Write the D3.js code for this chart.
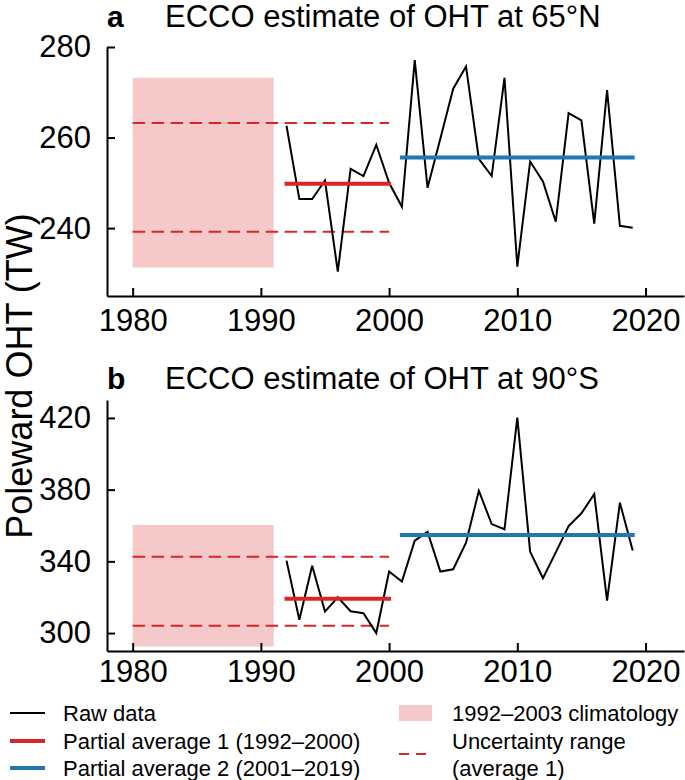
<!DOCTYPE html>
<html><head><meta charset="utf-8">
<script src="https://cdn.jsdelivr.net/npm/d3@7"></script>
<style>
html,body{margin:0;padding:0;background:#fff;}
svg text{font-family:"Liberation Sans",Arial,Helvetica,sans-serif;fill:#000;}
</style></head>
<body><svg id="chart" width="685" height="780"></svg>
<script>
// ---------- data ----------
const years = [1992,1993,1994,1995,1996,1997,1998,1999,2000,2001,2002,2003,2004,2005,2006,2007,2008,2009,2010,2011,2012,2013,2014,2015,2016,2017,2018,2019];
const ohtN65 = [262.6,246.4,246.4,250.5,230.4,253.1,251.5,258.4,250.0,244.7,277.1,248.9,259.8,270.8,275.7,255.3,251.5,273.2,231.5,254.7,250.3,241.4,265.4,263.8,241.0,270.5,240.5,240.1];
const ohtS90 = [340.4,307.4,337.6,312.0,320.0,312.2,311.1,300.0,334.3,328.7,351.5,356.4,334.3,335.6,350.4,379.4,360.8,357.9,420.2,345.4,330.6,345.0,359.7,366.8,377.5,318.1,372.7,346.0];
const avg1Period = [1992, 2000];
const avg2Period = [2001, 2019];
const uncPeriod = [1980, 2000];
const climPeriod = [1980, 1991];
const avgN65 = [249.8, 255.6];       // partial average 1, 2
const avgS90 = [319.1, 354.7];
const uncN65 = [239.2, 263.2];
const uncS90 = [304.1, 342.6];
const climN65 = [231.3, 273.2];
const climS90 = [292.5, 360.3];
const xTicks = [1980,1990,2000,2010,2020];
const yTicksN65 = [240,260,280];
const yTicksS90 = [300,340,380,420];
const titles = ["ECCO estimate of OHT at 65°N", "ECCO estimate of OHT at 90°S"];
const panelLetters = ["a","b"];
const yLabel = "Poleward OHT (TW)";
const legendLeft = ["Raw data","Partial average 1 (1992–2000)","Partial average 2 (2001–2019)"];
const legendRight = ["1992–2003 climatology","Uncertainty range","(average 1)"];

// ---------- style ----------
const RED = "#d62728", BLUE = "#1f77b4", PINK = "#f5c9c9";
const svg = d3.select("#chart");
const x = d3.scaleLinear().domain([1978, 2023]).range([107, 684]);

const panels = [
  {vals: ohtN65, avg: avgN65, unc: uncN65, clim: climN65, ticks: yTicksN65,
   y: d3.scaleLinear().domain([225, 280]).range([296, 47]), xpad: 13, titleY: 27},
  {vals: ohtS90, avg: avgS90, unc: uncS90, clim: climS90, ticks: yTicksS90,
   y: d3.scaleLinear().domain([290, 430]).range([651, 400]), xpad: 9, titleY: 389}
];

panels.forEach((p, i) => {
  const g = svg.append("g");
  const y = p.y;
  // climatology box
  g.append("rect")
    .attr("x", x(climPeriod[0])).attr("width", x(climPeriod[1]) - x(climPeriod[0]))
    .attr("y", y(p.clim[1])).attr("height", y(p.clim[0]) - y(p.clim[1]))
    .attr("fill", PINK);
  // uncertainty dashed
  p.unc.forEach(v => {
    g.append("line")
      .attr("x1", x(uncPeriod[0])).attr("x2", x(uncPeriod[1]))
      .attr("y1", y(v)).attr("y2", y(v))
      .attr("stroke", RED).attr("stroke-width", 2).attr("stroke-dasharray", "12.5,6.5");
  });
  // raw data
  g.append("path")
    .datum(years.map((yr, k) => [yr, p.vals[k]]))
    .attr("fill", "none").attr("stroke", "#000").attr("stroke-width", 2)
    .attr("stroke-linejoin", "miter")
    .attr("d", d3.line().x(d => x(d[0])).y(d => y(d[1])));
  // partial averages
  [[avg1Period, p.avg[0], RED], [avg2Period, p.avg[1], BLUE]].forEach(([per, v, c]) => {
    g.append("line")
      .attr("x1", x(per[0])).attr("x2", x(per[1]))
      .attr("y1", y(v)).attr("y2", y(v))
      .attr("stroke", c).attr("stroke-width", 4).attr("stroke-linecap", "square");
  });
  // axes
  const ax = g.append("g").attr("transform", `translate(0,${y.range()[0]})`)
    .call(d3.axisBottom(x).tickValues(xTicks).tickFormat(d3.format("d"))
      .tickSizeInner(-8).tickSizeOuter(0).tickPadding(p.xpad));
  const ay = g.append("g").attr("transform", `translate(${x.range()[0]},0)`)
    .call(d3.axisLeft(y).tickValues(p.ticks).tickFormat(d3.format("d"))
      .tickSizeInner(-8).tickSizeOuter(0).tickPadding(16));
  [ax, ay].forEach(a => {
    a.select(".domain").attr("stroke", "#000").attr("stroke-width", 2);
    a.selectAll(".tick line").attr("stroke", "#000").attr("stroke-width", 2);
    a.selectAll(".tick text").attr("font-size", 31).attr("font-family", null).attr("fill", "#000");
  });
  // titles
  g.append("text").attr("x", 107).attr("y", p.titleY).attr("font-size", 30)
    .attr("font-weight", "bold").text(panelLetters[i]);
  g.append("text").attr("x", 165).attr("y", p.titleY).attr("font-size", 31).text(titles[i]);
});

// y label
svg.append("text")
  .attr("transform", "translate(32,376) rotate(-90)")
  .attr("text-anchor", "middle").attr("font-size", 36).text(yLabel);

// ---------- legend ----------
const lg = svg.append("g");
const rowsY = [713, 741, 768];
const leftColors = ["#000", RED, BLUE];
const leftWidths = [2, 4, 4];
legendLeft.forEach((t, k) => {
  lg.append("line").attr("x1", 10).attr("x2", 45).attr("y1", rowsY[k]).attr("y2", rowsY[k])
    .attr("stroke", leftColors[k]).attr("stroke-width", leftWidths[k]);
  lg.append("text").attr("x", 63).attr("y", rowsY[k] + 8).attr("font-size", 22).text(t);
});
lg.append("rect").attr("x", 399).attr("y", 705).attr("width", 33).attr("height", 16).attr("fill", PINK);
lg.append("line").attr("x1", 399).attr("x2", 432).attr("y1", 754).attr("y2", 754)
  .attr("stroke", RED).attr("stroke-width", 2).attr("stroke-dasharray", "10,7");
legendRight.forEach((t, k) => {
  lg.append("text").attr("x", 452).attr("y", rowsY[k] + 8).attr("font-size", 22).text(t);
});
</script></body></html>
